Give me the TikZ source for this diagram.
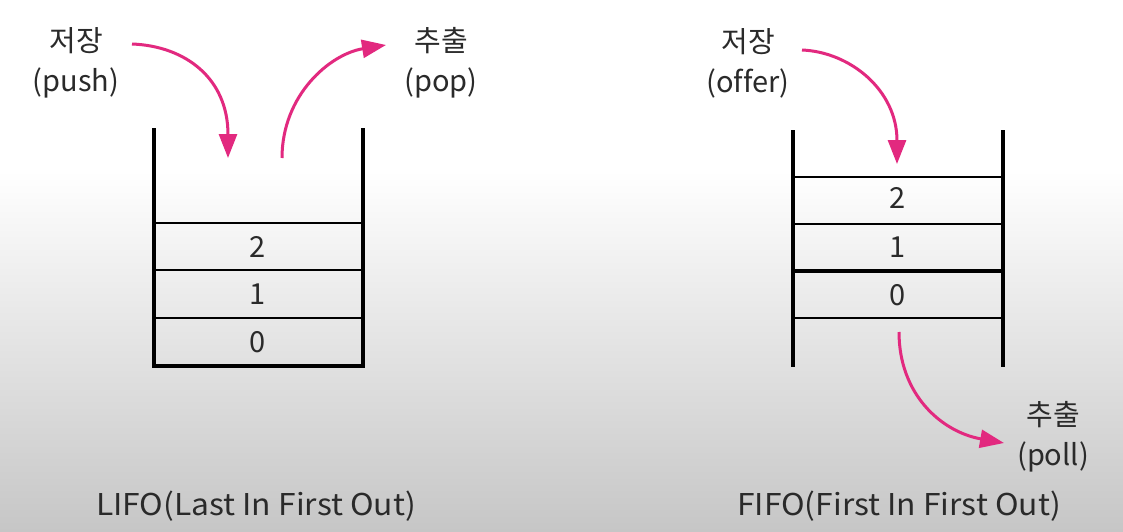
\documentclass[tikz,border=0pt]{standalone}
\usepackage{fontspec}
\setmainfont{Noto Sans CJK KR}[Ligatures=NoCommon]
\newfontfamily\capfont{Noto Sans CJK KR}[Ligatures=NoCommon,FakeStretch=1.06]
\usetikzlibrary{arrows.meta}
\definecolor{parrowc}{HTML}{E2297F}
\definecolor{ink}{HTML}{2A2A2A}
\definecolor{bggray}{HTML}{C6C6C6}
\begin{document}
\begin{tikzpicture}[x=1pt,y=-1pt,
  lbl/.style={text=ink,align=center,inner sep=0pt,font=\fontsize{29}{40}\selectfont},
  num/.style={text=ink,inner sep=0pt,font=\fontsize{29}{34}\selectfont},
  captxt/.style={text=ink,inner sep=0pt,font=\capfont\fontsize{30}{36}\selectfont},
  wall/.style={line width=4pt,draw=black},
  cell/.style={line width=2.5pt,draw=black},
  parrow/.style={draw=parrowc,line width=3pt,-{Triangle[length=24pt,width=18pt]}}]
\useasboundingbox (0,0) rectangle (1123,532);
\fill[white] (0,0) rectangle (1123,170);
\shade[top color=white,bottom color=bggray] (0,170) rectangle (1123,532);

% ---------- LIFO stack ----------
\draw[wall] (154,128) -- (154,366);
\draw[wall] (363,128) -- (363,366);
\draw[cell] (154,223) -- (363,223);
\draw[cell] (154,270) -- (363,270);
\draw[cell] (154,318) -- (363,318);
\draw[wall,line cap=rect] (154,366) -- (363,366);
\node[num] (l2) at (258,247) {2};
\node[num] (l1) at (258,294) {1};
\node[num] (l0) at (258,342) {0};

\node[lbl] (push) at (76,63) {저장\\(push)};
\node[lbl] (pop) at (441,63) {추출\\(pop)};
\coordinate (pushS) at (132,44);
\coordinate (pushE) at (228,158);
\coordinate (popS) at (282,158);
\coordinate (popE) at (386,45);
\draw[parrow] (pushS) .. controls (185,46) and (228,78) .. (pushE);
\draw[parrow] (popS) .. controls (282,95) and (330,54) .. (popE);

\node[captxt] (lifo) at (256,506) {LIFO(Last In First Out)};

% ---------- FIFO queue ----------
\draw[wall] (793,130) -- (793,367);
\draw[wall] (1003,130) -- (1003,367);
\draw[cell] (793,177) -- (1003,177);
\draw[cell] (793,224) -- (1003,224);
\draw[cell,line width=3.5pt] (793,271) -- (1003,271);
\draw[cell] (793,318) -- (1003,318);
\node[num] (f2) at (898,198) {2};
\node[num] (f1) at (898,247) {1};
\node[num] (f0) at (898,295) {0};

\node[lbl] (offer) at (748,63) {저장\\(offer)};
\node[lbl] (poll) at (1053,437) {추출\\(poll)};
\coordinate (offerS) at (802,50);
\coordinate (offerE) at (897,164);
\coordinate (pollS) at (899,332);
\coordinate (pollE) at (1004,443);
\draw[parrow] (offerS) .. controls (850,52) and (897,90) .. (offerE);
\draw[parrow] (pollS) .. controls (899,395) and (942,432) .. (pollE);

\node[captxt] (fifo) at (899,506) {FIFO(First In First Out)};
\end{tikzpicture}
\end{document}
